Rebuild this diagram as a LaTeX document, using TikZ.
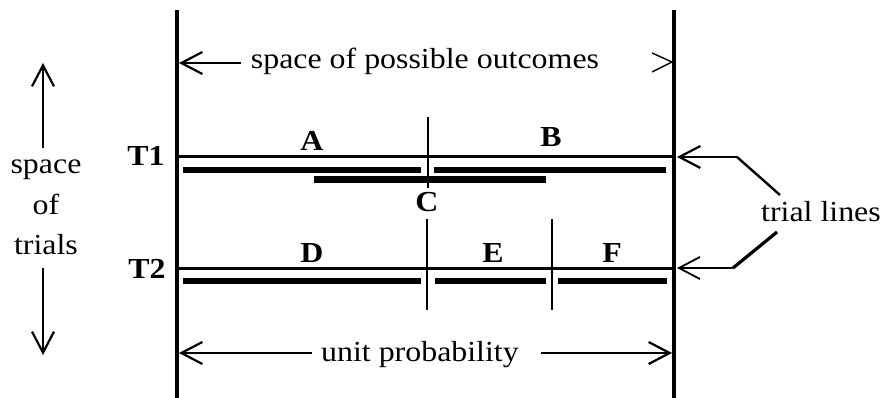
\documentclass[tikz,border=0pt]{standalone}
\usepackage{fontspec}
\setmainfont[FakeStretch=1.1]{Liberation Serif}
\usetikzlibrary{arrows.meta}
\begin{document}
\begin{tikzpicture}[x=1pt,y=-1pt,
  lbl/.style={font=\fontsize{29}{34}\selectfont, inner sep=0pt, anchor=base},
  blbl/.style={font=\fontsize{29}{34}\selectfont\bfseries, inner sep=0pt, anchor=base},
  barb/.style={-{Straight Barb[length=21pt,width=22pt]}},
  frame/.style={line width=3.2pt},
  trial/.style={line width=3pt},
  bar/.style={line width=6pt},
  divider/.style={line width=2.2pt},
  arr/.style={barb, line width=2.2pt}]
\useasboundingbox (0,0) rectangle (884,398);
% frame lines
\coordinate (Ltop) at (177,10); \coordinate (Lbot) at (177,398);
\coordinate (Rtop) at (674,10); \coordinate (Rbot) at (674,398);
\draw[frame] (Ltop) -- (Lbot);
\draw[line width=4.8pt] (Rtop) -- (Rbot);
% trial lines
\coordinate (T1L) at (177,157); \coordinate (T1R) at (674,157);
\coordinate (T2L) at (177,269); \coordinate (T2R) at (674,269);
\draw[trial] (T1L) -- (T1R);
\draw[trial] (T2L) -- (T2R);
\node[blbl] (t1) at (146,166) {T1};
\node[blbl] (t2) at (147,279) {T2};
% outcomes arrow
\node[lbl] (outc) at (425,69) {space of possible outcomes};
\coordinate (oa) at (241,63); \coordinate (ob) at (179,63);
\draw[arr] (oa) -- (ob);
\coordinate (oc1) at (652,53); \coordinate (oc2) at (672,62); \coordinate (oc3) at (652,72);
\draw[line width=1.4pt] (oc1) -- (oc2) -- (oc3);
% T1 dividers and bars
\coordinate (d1a) at (428,117); \coordinate (d1b) at (428,188);
\draw[line width=1.3pt] (d1a) -- (d1b);
\coordinate (a1) at (183,170); \coordinate (a2) at (421,170);
\coordinate (b1) at (434,170); \coordinate (b2) at (666,170);
\coordinate (c1) at (314,180); \coordinate (c2) at (546,180);
\draw[bar] (a1) -- (a2);
\draw[bar] (b1) -- (b2);
\draw[line width=7pt] (c1) -- (c2);
\node[blbl] (A) at (312,151) {A};
\node[blbl] (B) at (551,147) {B};
\node[blbl] (C) at (427,212) {C};
% T2 dividers and bars
\coordinate (d2a) at (427,219); \coordinate (d2b) at (427,310);
\coordinate (d3a) at (552,219); \coordinate (d3b) at (552,310);
\draw[divider] (d2a) -- (d2b);
\draw[divider] (d3a) -- (d3b);
\coordinate (dd1) at (183,281); \coordinate (dd2) at (421,281);
\coordinate (e1) at (435,281); \coordinate (e2) at (546,281);
\coordinate (f1) at (558,281); \coordinate (f2) at (667,281);
\draw[bar] (dd1) -- (dd2);
\draw[bar] (e1) -- (e2);
\draw[bar] (f1) -- (f2);
\node[blbl] (D) at (312,262) {D};
\node[blbl] (E) at (493,262) {E};
\node[blbl] (F) at (612,262) {F};
% unit probability
\node[lbl] (unit) at (420,361) {unit probability};
\coordinate (ua) at (312,353); \coordinate (ub) at (179,353);
\coordinate (uc) at (541,353); \coordinate (ud) at (672,353);
\draw[arr] (ua) -- (ub);
\draw[arr] (uc) -- (ud);
% space of trials
\node[lbl] (s1) at (46,174) {space};
\node[lbl] (s2) at (46,215) {of};
\node[lbl] (s3) at (46,255) {trials};
\coordinate (up1) at (43,148); \coordinate (up2) at (43,63);
\coordinate (dn1) at (43,268); \coordinate (dn2) at (43,355);
\draw[arr] (up1) -- (up2);
\draw[arr] (dn1) -- (dn2);
% trial lines label
\node[lbl] (trl) at (821,222) {trial lines};
\coordinate (k1) at (737,157); \coordinate (k1e) at (677,157); \coordinate (k1d) at (780,195);
\coordinate (k2) at (733,268); \coordinate (k2e) at (677,268); \coordinate (k2d) at (777,232);
\draw[arr] (k1) -- (k1e);
\draw[line width=2.4pt] (k1) -- (k1d);
\draw[arr, line width=1.8pt] (k2) -- (k2e);
\draw[line width=3.2pt] (k2) -- (k2d);
\end{tikzpicture}
\end{document}
